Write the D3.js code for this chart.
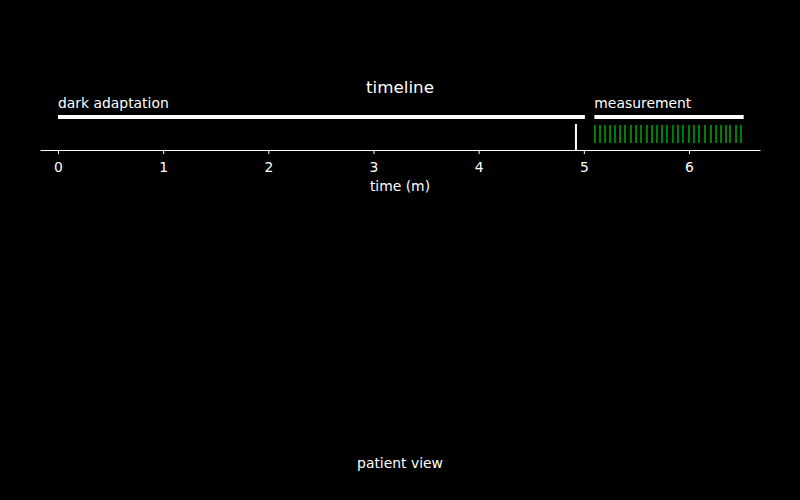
<!DOCTYPE html>
<html>
<head>
<meta charset="utf-8">
<script src="https://cdn.jsdelivr.net/npm/d3@7"></script>
<style>
  body { margin: 0; background: #000; }
  svg { display: block; font-family: "DejaVu Sans", sans-serif; }
</style>
</head>
<body>
<svg id="chart" width="800" height="500"></svg>
<script>
// Phases of the session (minutes)
const phaseNames = ["dark adaptation", "measurement"];
const phaseStart = [0, 5.1];
const phaseEnd = [5.01, 6.52];

// Single event marker before measurement starts
const markerTimes = [4.925];

const stimulusTimes = [
  5.106, 5.154, 5.201, 5.249, 5.296, 5.344, 5.391, 5.448, 5.496, 5.543,
  5.600, 5.648, 5.695, 5.743, 5.790, 5.847, 5.895, 5.942, 6.000, 6.047,
  6.095, 6.152, 6.209, 6.257, 6.304, 6.352, 6.390, 6.447, 6.494
];

const xTicks = [0, 1, 2, 3, 4, 5, 6];

const svg = d3.select("#chart");

const x = d3.scaleLinear()
  .domain([-0.171, 6.675])
  .range([40, 760]);

const axisY = 150;

// title
svg.append("text")
  .attr("x", 400)
  .attr("y", 93)
  .attr("text-anchor", "middle")
  .attr("fill", "#fff")
  .style("font-size", "16.7px")
  .text("timeline");

// phase bars + labels
const phases = phaseNames.map((name, i) => ({ name, start: phaseStart[i], end: phaseEnd[i] }));

svg.selectAll("line.phase")
  .data(phases)
  .join("line")
  .attr("class", "phase")
  .attr("x1", d => x(d.start))
  .attr("x2", d => x(d.end))
  .attr("y1", 117)
  .attr("y2", 117)
  .attr("stroke", "#fff")
  .attr("stroke-width", 4);

svg.selectAll("text.phase")
  .data(phases)
  .join("text")
  .attr("class", "phase")
  .attr("x", d => x(d.start))
  .attr("y", 108)
  .attr("fill", "#fff")
  .style("font-size", "13.9px")
  .text(d => d.name);

// marker
svg.selectAll("line.marker")
  .data(markerTimes)
  .join("line")
  .attr("class", "marker")
  .attr("x1", d => x(d))
  .attr("x2", d => x(d))
  .attr("y1", 124)
  .attr("y2", 150)
  .attr("stroke", "#fff")
  .attr("stroke-width", 2);

// stimuli
svg.selectAll("line.stim")
  .data(stimulusTimes)
  .join("line")
  .attr("class", "stim")
  .attr("x1", d => x(d))
  .attr("x2", d => x(d))
  .attr("y1", 125)
  .attr("y2", 143)
  .attr("stroke", "#008000")
  .attr("stroke-width", 2);

// x axis
const axis = svg.append("g")
  .attr("transform", `translate(0,${axisY})`)
  .call(d3.axisBottom(x).tickValues(xTicks).tickFormat(d3.format("d")).tickSize(4).tickPadding(8).tickSizeOuter(0));

axis.select(".domain").attr("stroke", "#fff");
axis.selectAll(".tick line").attr("stroke", "#fff");
axis.selectAll(".tick text")
  .attr("fill", "#fff")
  .style("font-size", "13.9px")
  .style("font-family", "DejaVu Sans, sans-serif");

svg.append("text")
  .attr("x", 400)
  .attr("y", 191)
  .attr("text-anchor", "middle")
  .attr("fill", "#fff")
  .style("font-size", "13.9px")
  .text("time (m)");

svg.append("text")
  .attr("x", 400)
  .attr("y", 468)
  .attr("text-anchor", "middle")
  .attr("fill", "#fff")
  .style("font-size", "13.9px")
  .text("patient view");
</script>
</body>
</html>
